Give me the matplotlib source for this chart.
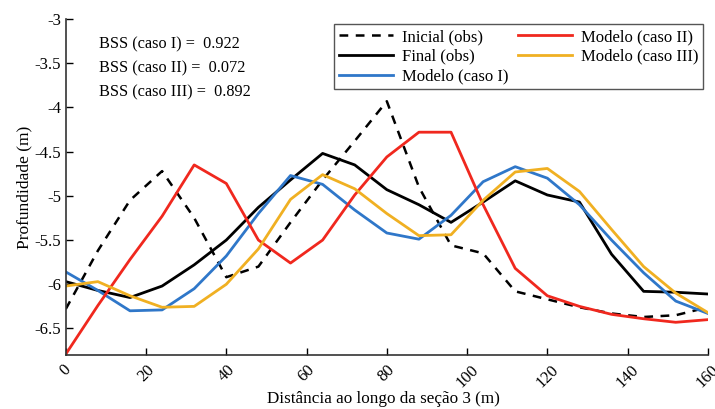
import numpy as np
import matplotlib.pyplot as plt
from matplotlib import rcParams

rcParams['font.family'] = ['Liberation Serif', 'DejaVu Serif']

# distance along section (m)
dist = [0, 8, 16, 24, 32, 40, 48, 56, 64, 72, 80, 88, 96, 104, 112, 120, 128, 136, 144, 152, 160]

inicial_obs = [-6.28, -5.62, -5.05, -4.72, -5.25, -5.92, -5.80, -5.30, -4.82, -4.38, -3.93,
               -4.90, -5.56, -5.65, -6.08, -6.17, -6.26, -6.33, -6.37, -6.35, -6.26]
final_obs = [-5.97, -6.07, -6.15, -6.02, -5.78, -5.50, -5.13, -4.82, -4.52, -4.65, -4.93,
             -5.10, -5.30, -5.07, -4.83, -4.99, -5.07, -5.66, -6.08, -6.09, -6.11]
modelo_I = [-5.86, -6.07, -6.30, -6.29, -6.05, -5.68, -5.20, -4.77, -4.87, -5.16, -5.42,
            -5.49, -5.22, -4.84, -4.67, -4.80, -5.10, -5.50, -5.87, -6.19, -6.33]
modelo_II = [-6.79, -6.24, -5.72, -5.23, -4.65, -4.86, -5.50, -5.76, -5.50, -4.99, -4.56,
             -4.28, -4.28, -5.10, -5.82, -6.13, -6.25, -6.34, -6.39, -6.43, -6.40]
modelo_III = [-6.02, -5.97, -6.13, -6.26, -6.25, -6.00, -5.60, -5.04, -4.76, -4.92, -5.20,
              -5.45, -5.44, -5.05, -4.73, -4.69, -4.95, -5.38, -5.80, -6.10, -6.32]

bss_labels = ['BSS (caso I) =  0.922', 'BSS (caso II) =  0.072', 'BSS (caso III) =  0.892']

fs = 12
fig = plt.figure(figsize=(7.15, 4.09), dpi=100)
ax = fig.add_axes([0.092, 0.132, 0.898, 0.8215])

lw = 2.0
ax.plot(dist, inicial_obs, color='k', lw=1.8, linestyle=(0, (3.5, 3)), label='Inicial (obs)')
ax.plot(dist, final_obs, color='k', lw=lw, label='Final (obs)')
ax.plot(dist, modelo_I, color='#2f77c9', lw=lw, label='Modelo (caso I)')
ax.plot(dist, modelo_II, color='#f0281e', lw=lw, label='Modelo (caso II)')
ax.plot(dist, modelo_III, color='#f0b022', lw=lw, label='Modelo (caso III)')

ax.set_xlim(0, 160)
ax.set_ylim(-6.8, -3)
ax.set_xticks(np.arange(0, 161, 20))
ax.set_yticks(np.arange(-6.5, -2.9, 0.5))
ax.set_yticklabels(['%g' % v for v in np.arange(-6.5, -2.9, 0.5)])
ax.tick_params(direction='in', length=5, width=1, labelsize=fs)
ax.tick_params(axis='x', pad=5)
for lab in ax.get_xticklabels():
    lab.set_rotation(45)
    lab.set_ha('center')

for side in ['top', 'right']:
    ax.spines[side].set_visible(False)
for side in ['left', 'bottom']:
    ax.spines[side].set_linewidth(1.2)
    ax.spines[side].set_color('#333333')

ax.set_xlabel('Distância ao longo da seção 3 (m)', fontsize=12.3)
ax.set_ylabel('Profundidade (m)', fontsize=12.5)
ax.xaxis.set_label_coords(0.495, -0.107)
ax.yaxis.set_label_coords(-0.052, 0.5)

for i, t in enumerate(bss_labels):
    ax.text(0.052, 0.923 - i * 0.07, t, transform=ax.transAxes, fontsize=11.7, va='center')

leg = ax.legend(ncol=2, loc='upper right', bbox_to_anchor=(0.993, 0.985), fontsize=fs,
                handlelength=3.2, fancybox=False, edgecolor='#555555', framealpha=1,
                borderpad=0.3, labelspacing=0.22, columnspacing=0.6, handletextpad=0.55,
                borderaxespad=0)
leg.get_frame().set_linewidth(1.0)

fig.savefig('out.png', dpi=100)
